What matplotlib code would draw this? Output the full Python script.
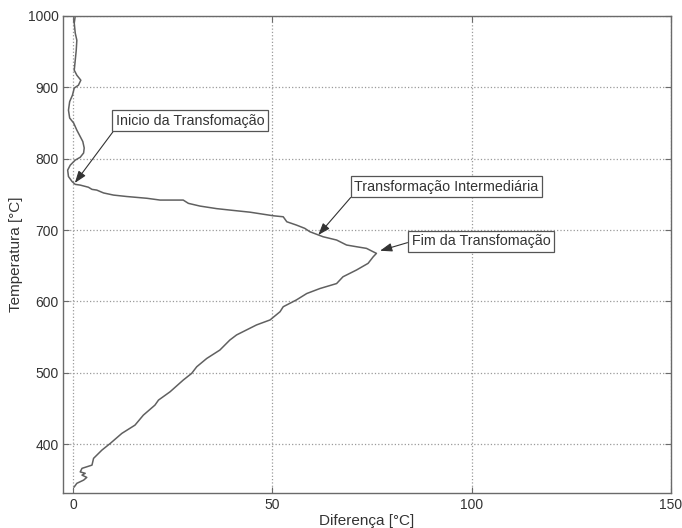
import matplotlib
matplotlib.use("Agg")
import matplotlib.pyplot as plt

plt.rcParams['font.family'] = ['Liberation Sans', 'DejaVu Sans']

# Temperature (°C) and temperature difference (°C) along the cooling curve
temperatura = [1000, 990, 976, 966, 952, 938, 924, 917, 910, 903, 899, 889, 880,
               868, 857, 850, 840, 831, 824, 815, 808, 802, 798, 791, 784, 775,
               768, 764, 763, 760, 757, 756, 752, 749, 747, 744.5, 742, 742,
               737.4, 733.6, 730, 728, 725, 720, 718.6, 711.6, 707, 702.4,
               697.6, 690.6, 686, 679, 676.6, 674.3, 669.5, 667.3, 662.6, 653.3,
               644, 634.5, 625, 618, 611, 602, 592.5, 585.5, 574, 567, 553,
               545.8, 531.8, 520, 508.4, 499, 489.7, 473.3, 461.7, 454.6, 440.6,
               426.6, 415, 401, 391.6, 380, 370.5, 366, 361, 359, 356.5, 353.3,
               349.5, 345, 340]
diferenca = [0.5, 0.25, 0.5, 0.9, 0.75, 0.5, 0.25, 0.9, 1.9, 1.3, 0.25, -0.2, -0.9,
             -1.2, -0.9, 0.1, 0.9, 1.75, 2.4, 2.75, 2.6, 1.75, 0.5, -0.75, -1.4, -1.2,
             -0.3, 0.5, 1.75, 3.8, 4.7, 5.9, 7.6, 10.1, 13.4, 18.5, 21.8, 27.6,
             28.9, 31.8, 36, 39.3, 44.4, 50.2, 52.7, 53.6, 56, 58.1,
             59.4, 62.7, 66.1, 68.6, 71.1, 73.6, 75.3, 76.1, 75.3, 74,
             71.1, 67.7, 66.1, 61.9, 58.6, 56, 52.7, 51.9, 49.4, 46, 41,
             39.3, 36.8, 33.5, 31, 29.7, 27.6, 24.3, 21.4, 20.5, 17.6,
             15.5, 12.2, 9.3, 7.2, 5.1, 4.7, 2.2, 1.75, 3, 2.2, 3.4,
             2.6, 0.9, 0.25]

x_ticks = [0, 50, 100, 150]
y_ticks = [400, 500, 600, 700, 800, 900, 1000]

# Annotations: label, point marked, text anchor, arrow start on the box
notas = [
    ("Inicio da Transfomação", (0.4, 766), (10.7, 853), (0.0, 0.0)),
    ("Transformação Intermediária", (61.5, 693), (70.5, 761), (0.0, 0.0)),
    ("Fim da Transfomação", (77.0, 671), (84.9, 684), (0.0, 0.5)),
]

text_c = '#333333'
frame_c = '#6a6a6a'

fig = plt.figure(figsize=(6.82, 5.28), dpi=100)
ax = fig.add_axes([0.0928, 0.0657, 0.8909, 0.904])

ax.plot(diferenca, temperatura, color='#606060', lw=1.1)

ax.set_xlim(-2.5, 150)
ax.set_ylim(331, 1000)
ax.set_xticks(x_ticks)
ax.set_yticks(y_ticks)
ax.grid(True, linestyle=':', color='#9a9a9a', lw=0.9)

for s in ax.spines.values():
    s.set_color(frame_c)
    s.set_linewidth(1.0)
ax.tick_params(direction='in', length=4, width=0.8, color=frame_c,
               labelsize=10, labelcolor=text_c, top=True, right=True)

ax.set_xlabel('Diferença [°C]', fontsize=11, color=text_c, labelpad=1)
ax.set_ylabel('Temperatura [°C]', fontsize=11, color=text_c, labelpad=3)

for label, ponto, texto, rel in notas:
    ax.annotate(label, xy=ponto, xytext=texto, textcoords='data',
                ha='left', va='center', fontsize=10.3, color=text_c,
                bbox=dict(boxstyle='square,pad=0.25', fc='white',
                          ec='#555555', lw=0.9),
                arrowprops=dict(arrowstyle='-|>,head_length=0.7,head_width=0.25',
                                color='#333333', lw=0.8, relpos=rel,
                                shrinkA=0, shrinkB=0))

fig.savefig('out.png', dpi=100)
